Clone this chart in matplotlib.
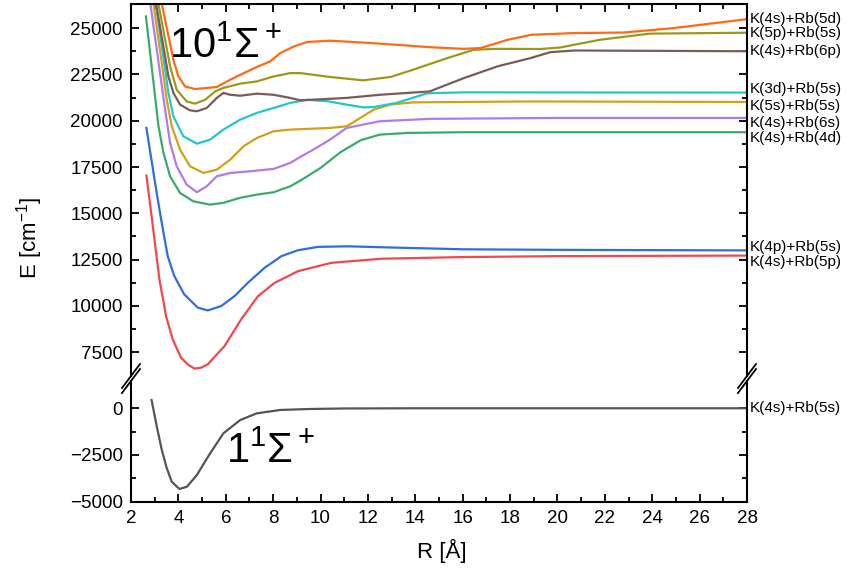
import numpy as np
import matplotlib; matplotlib.use('Agg')
import matplotlib.pyplot as plt
from matplotlib.ticker import MultipleLocator, FixedLocator

plt.rcParams['font.family'] = ['Liberation Sans', 'DejaVu Sans']
plt.rcParams['mathtext.fontset'] = 'custom'
plt.rcParams['mathtext.rm'] = 'Liberation Sans'
plt.rcParams['mathtext.it'] = 'Liberation Sans:italic'
plt.rcParams['mathtext.bf'] = 'Liberation Sans:bold'

# potential curves, R in Angstrom, E in cm^-1
R_gs = [2.87, 3.09, 3.30, 3.51, 3.72, 4.04, 4.36, 4.78, 5.34, 5.9, 6.61, 7.31, 8.3, 9.5, 11.0, 14.0, 20.0, 28.0]
E_gs = [440, -985, -2230, -3210, -3930, -4320, -4200, -3570, -2410, -1340, -630, -270, -90, -40, -10, 0, 0, 0]

R_red = [2.65, 2.87, 3.2, 3.48, 3.76, 4.11, 4.39, 4.68, 4.96, 5.24, 5.95, 6.65, 7.36, 8.06, 9.05, 10.46, 12.57, 16, 20, 28]
E_red = [17040, 14840, 11430, 9450, 8200, 7210, 6850, 6620, 6670, 6850, 7840, 9280, 10530, 11250, 11880, 12330, 12550, 12640, 12690, 12720]

R_blue = [2.65, 3.06, 3.25, 3.41, 3.55, 3.83, 4.25, 4.82, 5.24, 5.8, 6.37, 6.93, 7.64, 8.35, 9.05, 9.9, 11.16, 12.57, 16, 20, 28]
E_blue = [19610, 16300, 14840, 13680, 12690, 11610, 10620, 9910, 9760, 9990, 10530, 11250, 12060, 12690, 13010, 13190, 13220, 13170, 13060, 13030, 13000]

R_green = [2.63, 3.16, 3.37, 3.65, 4.07, 4.63, 5.34, 5.9, 6.61, 7.31, 8.02, 8.72, 9.19, 10.0, 10.84, 11.7, 12.5, 13.66, 16, 28]
E_green = [25630, 19700, 18260, 17000, 16100, 15650, 15470, 15570, 15840, 16010, 16140, 16460, 16800, 17450, 18300, 18950, 19250, 19340, 19380, 19380]

R_purple = [2.82, 3.44, 3.65, 3.93, 4.35, 4.78, 5.2, 5.62, 6.19, 7.03, 8.02, 8.72, 9.19, 9.7, 10.4, 11.1, 12.5, 14.6, 20, 28]
E_purple = [26300, 20600, 18800, 17540, 16550, 16140, 16460, 17000, 17180, 17270, 17400, 17720, 18080, 18440, 18980, 19610, 19970, 20100, 20150, 20150]

R_gold = [2.95, 3.28, 3.51, 3.72, 4.07, 4.49, 5.06, 5.62, 6.19, 6.75, 7.31, 8.02, 8.72, 10.4, 11.1, 11.68, 12.25, 12.95, 13.9, 18.9, 28]
E_gold = [26300, 23290, 21130, 19700, 18440, 17540, 17180, 17360, 17900, 18620, 19070, 19430, 19520, 19610, 19700, 20150, 20600, 20870, 20990, 21040, 21010]

R_cyan = [3.05, 3.58, 3.79, 4.21, 4.78, 5.34, 5.9, 6.61, 7.31, 8.02, 8.72, 9.43, 10.3, 11.1, 11.8, 12.25, 13.2, 14.5, 16, 28]
E_cyan = [26300, 21500, 20230, 19160, 18760, 18980, 19520, 20060, 20420, 20690, 20960, 21130, 21050, 20870, 20720, 20740, 20960, 21480, 21530, 21520]

R_brown = [3.06, 3.58, 3.79, 4.07, 4.49, 4.78, 5.2, 5.62, 5.9, 6.19, 6.61, 7.31, 8.02, 8.72, 9.15, 11.1, 12.5, 14.6, 16.05, 17.46, 18.86, 19.7, 20.7, 28]
E_brown = [26300, 22390, 21500, 20870, 20560, 20510, 20690, 21230, 21500, 21400, 21350, 21460, 21400, 21230, 21100, 21230, 21400, 21580, 22300, 22930, 23380, 23700, 23790, 23750]

R_olive = [3.16, 3.65, 3.93, 4.35, 4.7, 5.13, 5.55, 5.9, 6.61, 7.31, 8.02, 8.72, 9.15, 10.4, 11.8, 12.95, 13.9, 15.35, 16.47, 17.46, 19.3, 20.1, 21.8, 23.9, 28]
E_olive = [26300, 22930, 21670, 21040, 20920, 21130, 21580, 21770, 22000, 22120, 22390, 22570, 22570, 22360, 22180, 22360, 22750, 23380, 23830, 23880, 23870, 23950, 24370, 24700, 24750]

R_orange = [3.3, 3.79, 4.0, 4.28, 4.7, 5.2, 5.62, 6.05, 6.61, 7.31, 7.87, 8.3, 8.86, 9.43, 10.4, 11.8, 13.2, 14.6, 16.0, 16.75, 17.9, 18.9, 20.7, 22.8, 24.9, 28]
E_orange = [26300, 23290, 22390, 21850, 21710, 21770, 21820, 22120, 22480, 22900, 23200, 23650, 24000, 24250, 24320, 24220, 24100, 23970, 23880, 23920, 24370, 24640, 24730, 24760, 25000, 25480]

# asymptote labels and where their text sits
labels = ["K(4s)+Rb(5d)", "K(5p)+Rb(5s)", "K(4s)+Rb(6p)", "K(3d)+Rb(5s)", "K(5s)+Rb(5s)",
          "K(4s)+Rb(6s)", "K(4s)+Rb(4d)", "K(4p)+Rb(5s)", "K(4s)+Rb(5p)"]
label_y = [25485, 24750, 23790, 21710, 20810, 19880, 19070, 13190, 12360]

excited = [
    (R_red, E_red, '#F2474D'),
    (R_blue, E_blue, '#2E6FDD'),
    (R_green, E_green, '#3DAA6D'),
    (R_purple, E_purple, '#B07CE8'),
    (R_gold, E_gold, '#D4A017'),
    (R_cyan, E_cyan, '#22C7CC'),
    (R_brown, E_brown, '#7D5A57'),
    (R_olive, E_olive, '#999A1C'),
    (R_orange, E_orange, '#FF6A13'),
]

fig = plt.figure(figsize=(8.48, 5.78), dpi=100)
L, W = 131/848, (747-131)/848
ax_top = fig.add_axes([L, 1-376/578, W, 372/578])
ax_bot = fig.add_axes([L, 1-501.7/578, W, 120.7/578])

for R, E, c in excited:
    ax_top.plot(R, E, color=c, lw=1.6, solid_joinstyle='round')
ax_bot.plot(R_gs, E_gs, color='#555555', lw=1.6, solid_joinstyle='round')

ax_top.set_ylim(6220, 26300)
ax_bot.set_ylim(-5000, 1460)
for ax in (ax_top, ax_bot):
    ax.set_xlim(2, 28)
    ax.xaxis.set_major_locator(MultipleLocator(2))
    ax.xaxis.set_minor_locator(MultipleLocator(1))
    for s in ax.spines.values():
        s.set_linewidth(1.5)
    ax.tick_params(which='both', direction='in', left=True, right=True, width=1.3, labelsize=13.5, pad=6)
    ax.tick_params(which='major', length=6)
    ax.tick_params(which='minor', length=3.5)

ax_top.set_yticks(np.arange(7500, 25001, 2500))
ax_top.yaxis.set_minor_locator(FixedLocator(np.arange(8750, 24000, 2500)))
ax_top.tick_params(which='both', top=True, bottom=False, labelbottom=False)
ax_top.spines['bottom'].set_visible(False)

ax_bot.set_yticks([-5000, -2500, 0])
ax_bot.yaxis.set_minor_locator(FixedLocator([-3750, -1250]))
ax_bot.tick_params(which='both', top=False, bottom=True)
ax_bot.spines['top'].set_visible(False)

for lab, y in zip(labels, label_y):
    ax_top.text(1.005, y, lab, transform=ax_top.get_yaxis_transform(), fontsize=11, va='center', ha='left')
ax_bot.text(1.005, 0, "K(4s)+Rb(5s)", transform=ax_bot.get_yaxis_transform(), fontsize=11, va='center', ha='left')

ax_top.text(3.6, 23400, r'10$^1\mathrm{\Sigma}^+$', fontsize=30, va='baseline', ha='left')
ax_bot.text(6.0, -2950, r'1$^1\mathrm{\Sigma}^+$', fontsize=30, va='baseline', ha='left')

fig.text(30/848, 1-238/578, r'E [cm$^{-1}$]', rotation=90, fontsize=16, ha='center', va='center')
fig.text(442/848, 1-551/578, 'R [Å]', fontsize=16, ha='center', va='center')

# axis break marks
for xp in (131, 747):
    for yp in (376, 381):
        fig.add_artist(plt.Line2D([(xp-9)/848, (xp+9)/848], [1-(yp+12)/578, 1-(yp-12)/578],
                                  color='black', lw=1.3, transform=fig.transFigure))

plt.savefig("out.png", dpi=100)
